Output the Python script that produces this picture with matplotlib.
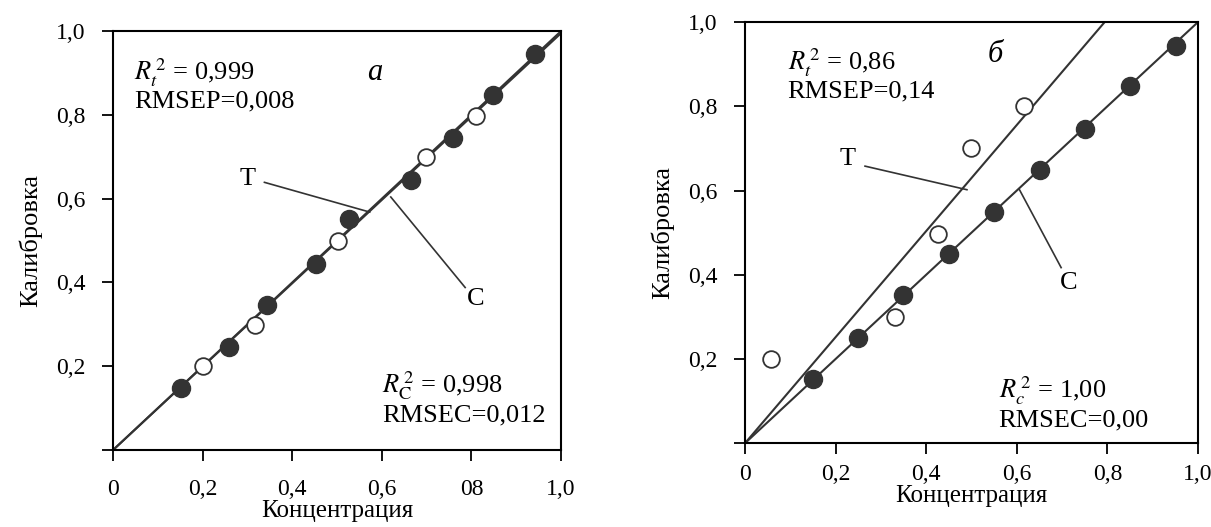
import matplotlib
matplotlib.use("Agg")
import matplotlib.pyplot as plt

plt.rcParams['font.family'] = ['Liberation Serif', 'DejaVu Serif']
plt.rcParams['mathtext.fontset'] = 'stix'

# panel a
a_cal_x = [0.151, 0.258, 0.344, 0.454, 0.526, 0.664, 0.759, 0.848, 0.942]
a_cal_y = [0.147, 0.247, 0.346, 0.445, 0.551, 0.644, 0.746, 0.847, 0.945]
a_test_x = [0.201, 0.316, 0.503, 0.699, 0.810]
a_test_y = [0.201, 0.299, 0.500, 0.699, 0.797]
a_T_x, a_T_y = [0, 1.0], [0, 1.0]
a_C_x, a_C_y = [0, 1.0], [0, 0.995]

# panel б
b_cal_x = [0.150, 0.250, 0.348, 0.450, 0.550, 0.652, 0.750, 0.850, 0.952]
b_cal_y = [0.152, 0.251, 0.351, 0.449, 0.550, 0.648, 0.747, 0.849, 0.944]
b_test_x = [0.057, 0.331, 0.427, 0.500, 0.616]
b_test_y = [0.200, 0.299, 0.498, 0.701, 0.802]
b_T_x, b_T_y = [0, 0.794], [0, 1.0]
b_C_x, b_C_y = [0, 1.0], [0, 1.0]

xticks = [0, 0.2, 0.4, 0.6, 0.8, 1.0]
a_xlabels = ['0', '0,2', '0,4', '0,6', '08', '1,0']
b_xlabels = ['0', '0,2', '0,4', '0,6', '0,8', '1,0']
yticks = [0, 0.2, 0.4, 0.6, 0.8, 1.0]
ylabels = ['', '0,2', '0,4', '0,6', '0,8', '1,0']

dark = '#333333'

fig = plt.figure(figsize=(12.11, 5.27), dpi=100)
ax1 = fig.add_axes([0.0933, 0.146, 0.370, 0.795])
ax2 = fig.add_axes([0.6152, 0.159, 0.374, 0.799])


def setup(ax, xlabels, xpad, xlabelpad):
    ax.set_xlim(0, 1)
    ax.set_ylim(0, 1)
    ax.set_xticks(xticks)
    ax.set_xticklabels(xlabels)
    ax.set_yticks(yticks)
    ax.set_yticklabels(ylabels)
    ax.tick_params(direction='out', length=8, width=1.3, labelsize=17)
    ax.tick_params(axis='y', pad=12)
    ax.tick_params(axis='x', pad=xpad)
    for s in ax.spines.values():
        s.set_linewidth(1.5)
    ax.set_xlabel('Концентрация', fontsize=18, labelpad=xlabelpad)
    ax.set_ylabel('Калибровка', fontsize=19, labelpad=10)


def draw(ax, tx, ty, cx, cy, calx, caly, testx, testy):
    ax.plot(tx, ty, color=dark, lw=1.5, zorder=2)
    ax.plot(cx, cy, color=dark, lw=1.5, zorder=2)
    ax.plot(calx, caly, 'o', ms=13, color=dark, mec=dark, zorder=3)
    ax.plot(testx, testy, 'o', ms=12, mfc='white', mec=dark, mew=1.3, zorder=3)


setup(ax1, a_xlabels, 13, 0)
draw(ax1, a_T_x, a_T_y, a_C_x, a_C_y, a_cal_x, a_cal_y, a_test_x, a_test_y)
ax1.plot([0.338, 0.573], [0.639, 0.568], color=dark, lw=1.2)
ax1.plot([0.786, 0.62], [0.388, 0.604], color=dark, lw=1.2)
ax1.text(0.30, 0.648, 'T', fontsize=19, ha='center', va='center')
ax1.text(0.81, 0.36, 'C', fontsize=19, ha='center', va='center')
ax1.text(0.047, 0.90, r'$R_t^{\,2}$ = 0,999', fontsize=19, va='center')
ax1.text(0.047, 0.833, 'RMSEP=0,008', fontsize=19, va='center')
ax1.text(0.585, 0.90, 'a', fontsize=22, style='italic', va='center', ha='center')
ax1.text(0.60, 0.155, r'$R_{\mathrm{C}}^{\,2}$ = 0,998', fontsize=19, va='center')
ax1.text(0.60, 0.083, 'RMSEC=0,012', fontsize=19, va='center')

setup(ax2, b_xlabels, 7, 0)
draw(ax2, b_T_x, b_T_y, b_C_x, b_C_y, b_cal_x, b_cal_y, b_test_x, b_test_y)
ax2.plot([0.265, 0.49], [0.658, 0.602], color=dark, lw=1.2)
ax2.plot([0.698, 0.606], [0.417, 0.602], color=dark, lw=1.2)
ax2.text(0.227, 0.676, 'T', fontsize=19, ha='center', va='center')
ax2.text(0.714, 0.381, 'C', fontsize=19, ha='center', va='center')
ax2.text(0.094, 0.903, r'$R_t^{\,2}$ = 0,86', fontsize=19, va='center')
ax2.text(0.094, 0.835, 'RMSEP=0,14', fontsize=19, va='center')
ax2.text(0.552, 0.923, 'б', fontsize=22, style='italic', va='center', ha='center')
ax2.text(0.56, 0.126, r'$R_c^{\,2}$ = 1,00', fontsize=19, va='center')
ax2.text(0.56, 0.054, 'RMSEC=0,00', fontsize=19, va='center')

fig.savefig('out.png', dpi=100)
